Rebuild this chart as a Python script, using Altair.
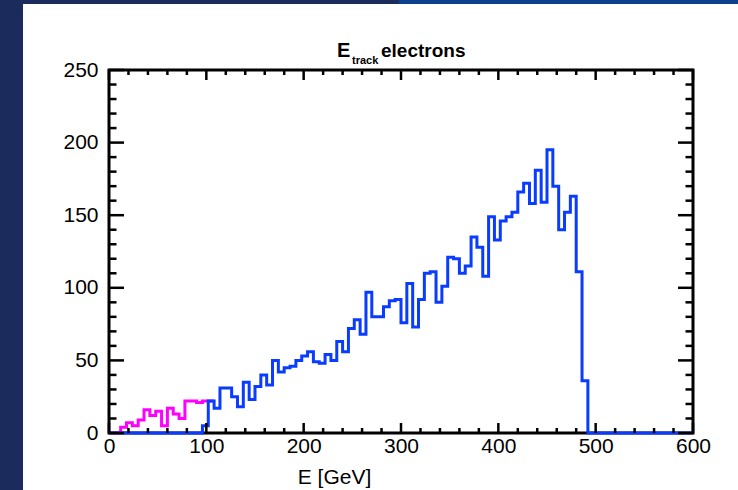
import altair as alt
import pandas as pd
import numpy as np

# ---------------- data ----------------
bin_edges = list(range(0, 606, 6))  # 100 bins of 6 GeV from 0 to 600

blue_counts = [0] * 16 + [
    5, 22, 17, 31, 31, 25, 18, 35, 23, 32,
    40, 33, 50, 42, 45, 46, 50, 53, 56, 49,
    48, 54, 50, 63, 56, 72, 78, 68, 97, 80,
    80, 87, 91, 92, 76, 103, 73, 92, 110, 111,
    90, 101, 121, 120, 110, 115, 135, 128, 108, 149,
    133, 146, 149, 152, 166, 172, 158, 181, 159, 195,
    170, 140, 152, 163, 111, 36,
] + [0] * 18

magenta_first_bin = 2
magenta_counts = [4, 7, 5, 9, 16, 12, 15, 5, 17, 13, 10, 22, 22, 21, 22, 22]

x_major = [0, 100, 200, 300, 400, 500, 600]
x_minor = [v for v in range(0, 601, 20) if v % 100 != 0]
y_major = [0, 50, 100, 150, 200, 250]
y_minor = [v for v in range(0, 251, 10) if v % 50 != 0]

title_main = "E"
title_sub = "track"
title_rest = "electrons"
x_title = "E [GeV]"

# ---------------- tables ----------------
blue_df = pd.DataFrame({"E": bin_edges, "N": blue_counts + [0]})
m_edges = bin_edges[magenta_first_bin:magenta_first_bin + len(magenta_counts) + 1]
magenta_df = pd.DataFrame({
    "E": [0] + m_edges,
    "N": [0] + magenta_counts + [magenta_counts[-1]],
})

W, H = 584, 363
FONT = "Liberation Sans"
BLUE = "#0a3cff"
MAG = "#ff00ff"

xscale = alt.Scale(domain=[0, 600], nice=False, zero=False)
yscale = alt.Scale(domain=[0, 250], nice=False, zero=False)

x_axis = alt.Axis(
    values=x_major, format="d", ticks=False, domain=False, grid=False,
    labelFontSize=21, labelFont=FONT, labelColor="black", labelPadding=2,
    labelFlush=False, labelOverlap=False,
    title=x_title, titleFont=FONT, titleFontSize=21, titleFontWeight="normal",
    titleColor="black", titleX=225, titleY=50, titleAlign="center",
    titleBaseline="alphabetic",
)
y_axis = alt.Axis(
    values=y_major, format="d", ticks=False, domain=False, grid=False,
    labelFontSize=21, labelFont=FONT, labelColor="black", labelPadding=11,
    labelFlush=False, labelOverlap=False, title=None,
)


def X(field):
    return alt.X(field, type="quantitative", scale=xscale, axis=x_axis, title=x_title)


def Y(field):
    return alt.Y(field, type="quantitative", scale=yscale, axis=y_axis, title=None)


magenta = alt.Chart(magenta_df).mark_line(
    interpolate="step-after", color=MAG, strokeWidth=3
).encode(x=X("E"), y=Y("N"))

blue = alt.Chart(blue_df).mark_line(
    interpolate="step-after", color=BLUE, strokeWidth=3
).encode(x=X("E"), y=Y("N"))


def xticks(vals, length):
    df = pd.DataFrame({"E": vals})
    bottom = alt.Chart(df).mark_rule(color="black", strokeWidth=2.5).encode(
        x=X("E"), y=alt.value(H), y2=alt.value(H - length))
    top = alt.Chart(df).mark_rule(color="black", strokeWidth=2.5).encode(
        x=X("E"), y=alt.value(0), y2=alt.value(length))
    return [bottom, top]


def yticks(vals, length):
    df = pd.DataFrame({"N": vals})
    left = alt.Chart(df).mark_rule(color="black", strokeWidth=2.5).encode(
        y=Y("N"), x=alt.value(0), x2=alt.value(length))
    right = alt.Chart(df).mark_rule(color="black", strokeWidth=2.5).encode(
        y=Y("N"), x=alt.value(W), x2=alt.value(W - length))
    return [left, right]


ticks = xticks(x_major, 10) + xticks(x_minor, 5) + yticks(y_major, 15) + yticks(y_minor, 7.5)

one = pd.DataFrame({"a": [0]})


def label(text, x, y, size):
    return alt.Chart(one).mark_text(
        text=text, font=FONT, fontSize=size, fontWeight="bold",
        align="left", baseline="alphabetic", color="black"
    ).encode(x=alt.value(x), y=alt.value(y))


titles = [
    label(title_main, 228, -13, 20),
    label(title_sub, 243, -6, 11),
    label(title_rest, 272, -13, 19),
]

# slide decoration (dark blue border of the page)
left_band = alt.Chart(one).mark_rect(color="#1b2c5c").encode(
    x=alt.value(-109), x2=alt.value(-86), y=alt.value(-70), y2=alt.value(420))
top_band1 = alt.Chart(one).mark_rect(color="#1b2c5c").encode(
    x=alt.value(-109), x2=alt.value(290), y=alt.value(-70), y2=alt.value(-66))
top_band2 = alt.Chart(one).mark_rect(color="#0c3f8c").encode(
    x=alt.value(290), x2=alt.value(629), y=alt.value(-70), y2=alt.value(-66))

chart = alt.layer(
    left_band, top_band1, top_band2,
    magenta, blue, *ticks, *titles
).properties(
    width=W, height=H,
    padding={"left": 109, "top": 70, "right": 45, "bottom": 57},
    autosize=alt.AutoSizeParams(type="none"),
    background="white",
).configure_view(stroke="black", strokeWidth=3)

chart.save("out.html", embed_options={"renderer": "svg", "actions": False})
